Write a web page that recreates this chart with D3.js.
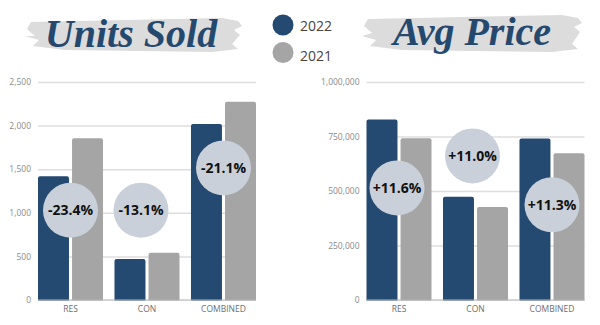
<!DOCTYPE html>
<html>
<head>
<meta charset="utf-8">
<script src="https://cdn.jsdelivr.net/npm/d3@7"></script>
<style>
  html, body { margin: 0; padding: 0; background: #fff; }
  svg { display: block; }
</style>
</head>
<body>
<svg id="chart" width="600" height="325"></svg>
<script>
// ---- data ----
const categories = ["RES", "CON", "COMBINED"];
const years = ["2022", "2021"];

const units2022 = [1420, 470, 2018];
const units2021 = [1854, 541, 2274];
const unitsChange = ["-23.4%", "-13.1%", "-21.1%"];
const unitsTicks = [0, 500, 1000, 1500, 2000, 2500];

const price2022 = [828000, 474000, 741000];
const price2021 = [742000, 427000, 673000];
const priceChange = ["+11.6%", "+11.0%", "+11.3%"];
const priceTicks = [0, 250000, 500000, 750000, 1000000];

// ---- styling ----
const navy = "#244a72";
const grey = "#a5a5a5";
const badgeFill = "#c9d0d9";
const titleColor = "#25496e";

const svg = d3.select("#chart");

// badge anchors (category offset in px, value on the y scale)
const unitsBadges = [{dx: 0, v: 1030}, {dx: -6, v: 1030}, {dx: 0, v: 1515}];
const priceBadges = [{dx: -2, v: 514000}, {dx: -3, v: 661000}, {dx: 0, v: 437000}];

function drawPanel(opt) {
  const g = svg.append("g");
  const x0 = d3.scaleBand().domain(categories).range([opt.left, opt.left + 218])
    .paddingInner(0.15).paddingOuter(0);
  const x1 = d3.scaleBand().domain(years).range([0, x0.bandwidth()]).paddingInner(0.09);
  const y = d3.scaleLinear().domain([0, opt.max]).range([300, 82]);

  // grid
  const axis = d3.axisLeft(y).tickValues(opt.ticks).tickSize(-218)
    .tickFormat(d3.format(","));
  const ag = g.append("g").attr("transform", `translate(${opt.left},0)`).call(axis);
  ag.select(".domain").remove();
  ag.selectAll(".tick line").attr("stroke", "#dedede").attr("stroke-width", 1.5);
  ag.selectAll(".tick text").attr("x", -7).attr("fill", "#8a8a8a")
    .style("font-family", "'Open Sans'").style("font-size", "8.5px");

  // bars
  const rows = categories.map((c, i) => ({c, vals: [opt.a[i], opt.b[i]]}));
  const grp = g.selectAll(".grp").data(rows).join("g")
    .attr("transform", d => `translate(${x0(d.c)},0)`);
  grp.selectAll("rect").data(d => d.vals.map((v, j) => ({year: years[j], v})))
    .join("rect")
    .attr("x", d => x1(d.year))
    .attr("width", x1.bandwidth())
    .attr("y", d => y(d.v))
    .attr("height", d => y(0) - y(d.v) + 2)
    .attr("rx", 2)
    .attr("fill", d => d.year === "2022" ? navy : grey);

  // cover the rounded bottoms, then baseline
  g.append("rect").attr("x", opt.left).attr("y", 300.6).attr("width", 218).attr("height", 4).attr("fill", "#fff");
  g.append("line").attr("x1", opt.left).attr("x2", opt.left + 218)
    .attr("y1", 300).attr("y2", 300).attr("stroke", "#b5b5b5").attr("stroke-width", 1.2);

  // category labels
  g.selectAll(".cat").data(categories).join("text")
    .attr("x", d => x0(d) + x0.bandwidth() / 2)
    .attr("y", 312)
    .attr("text-anchor", "middle")
    .attr("fill", "#6e6e6e")
    .style("font-family", "'Open Sans'").style("font-size", "8.5px")
    .text(d => d);

  // change badges
  const bg = g.selectAll(".badge").data(categories).join("g")
    .attr("transform", (d, i) =>
      `translate(${x0(d) + x0.bandwidth() / 2 + opt.badges[i].dx},${y(opt.badges[i].v)})`);
  bg.append("circle").attr("r", 27.5).attr("fill", badgeFill);
  bg.append("text").attr("text-anchor", "middle").attr("dy", "0.36em")
    .attr("fill", "#111")
    .style("font-family", "'Open Sans'").style("font-weight", 700).style("font-size", "14px")
    .text((d, i) => opt.labels[i]);
}

drawPanel({left: 38, max: 2500, ticks: unitsTicks, a: units2022, b: units2021,
  labels: unitsChange, badges: unitsBadges});
drawPanel({left: 366.5, max: 1000000, ticks: priceTicks, a: price2022, b: price2021,
  labels: priceChange, badges: priceBadges});

// ---- titles with brush-stroke backdrop ----
function brush(x0, x1, yTop, yBot) {
  const p = d3.path();
  p.moveTo(x0 + 6, yTop + 4);
  p.lineTo(x1 - 20, yTop);
  p.lineTo(x1 - 4, yTop + 3);
  p.lineTo(x1, yTop + 8);
  p.lineTo(x1 - 8, yTop + 12);
  p.lineTo(x1 - 2, yTop + 17);
  p.lineTo(x1 - 10, yBot - 8);
  p.lineTo(x1 - 4, yBot - 3);
  p.lineTo(x1 - 30, yBot);
  p.lineTo(x0 + 40, yBot - 2);
  p.lineTo(x0 + 8, yBot - 6);
  p.lineTo(x0 + 14, yBot - 12);
  p.lineTo(x0, yBot - 16);
  p.lineTo(x0 + 10, yTop + 18);
  p.lineTo(x0 + 2, yTop + 11);
  p.closePath();
  svg.append("path").attr("d", p.toString()).attr("fill", "#dcdcdc");
}
brush(25, 242, 18, 52);
brush(362, 582, 15, 52);

function title(txt, cx, by) {
  svg.append("text").attr("x", cx).attr("y", by)
    .attr("text-anchor", "middle")
    .attr("fill", titleColor)
    .style("font-family", "'Liberation Serif'")
    .style("font-style", "italic")
    .style("font-weight", 700)
    .style("font-size", "40px")
    .text(txt);
}
title("Units Sold", 131, 47);
title("Avg Price", 472, 45);

// ---- legend ----
const leg = svg.append("g");
years.forEach((yr, i) => {
  leg.append("circle").attr("cx", 283).attr("cy", 25 + i * 27.5).attr("r", 10.5)
    .attr("fill", i === 0 ? navy : grey);
  leg.append("text").attr("x", 300).attr("y", 26 + i * 30).attr("dy", "0.36em")
    .attr("fill", "#444")
    .style("font-family", "'Open Sans'").style("font-size", "14px")
    .text(yr);
});
</script>
</body>
</html>
